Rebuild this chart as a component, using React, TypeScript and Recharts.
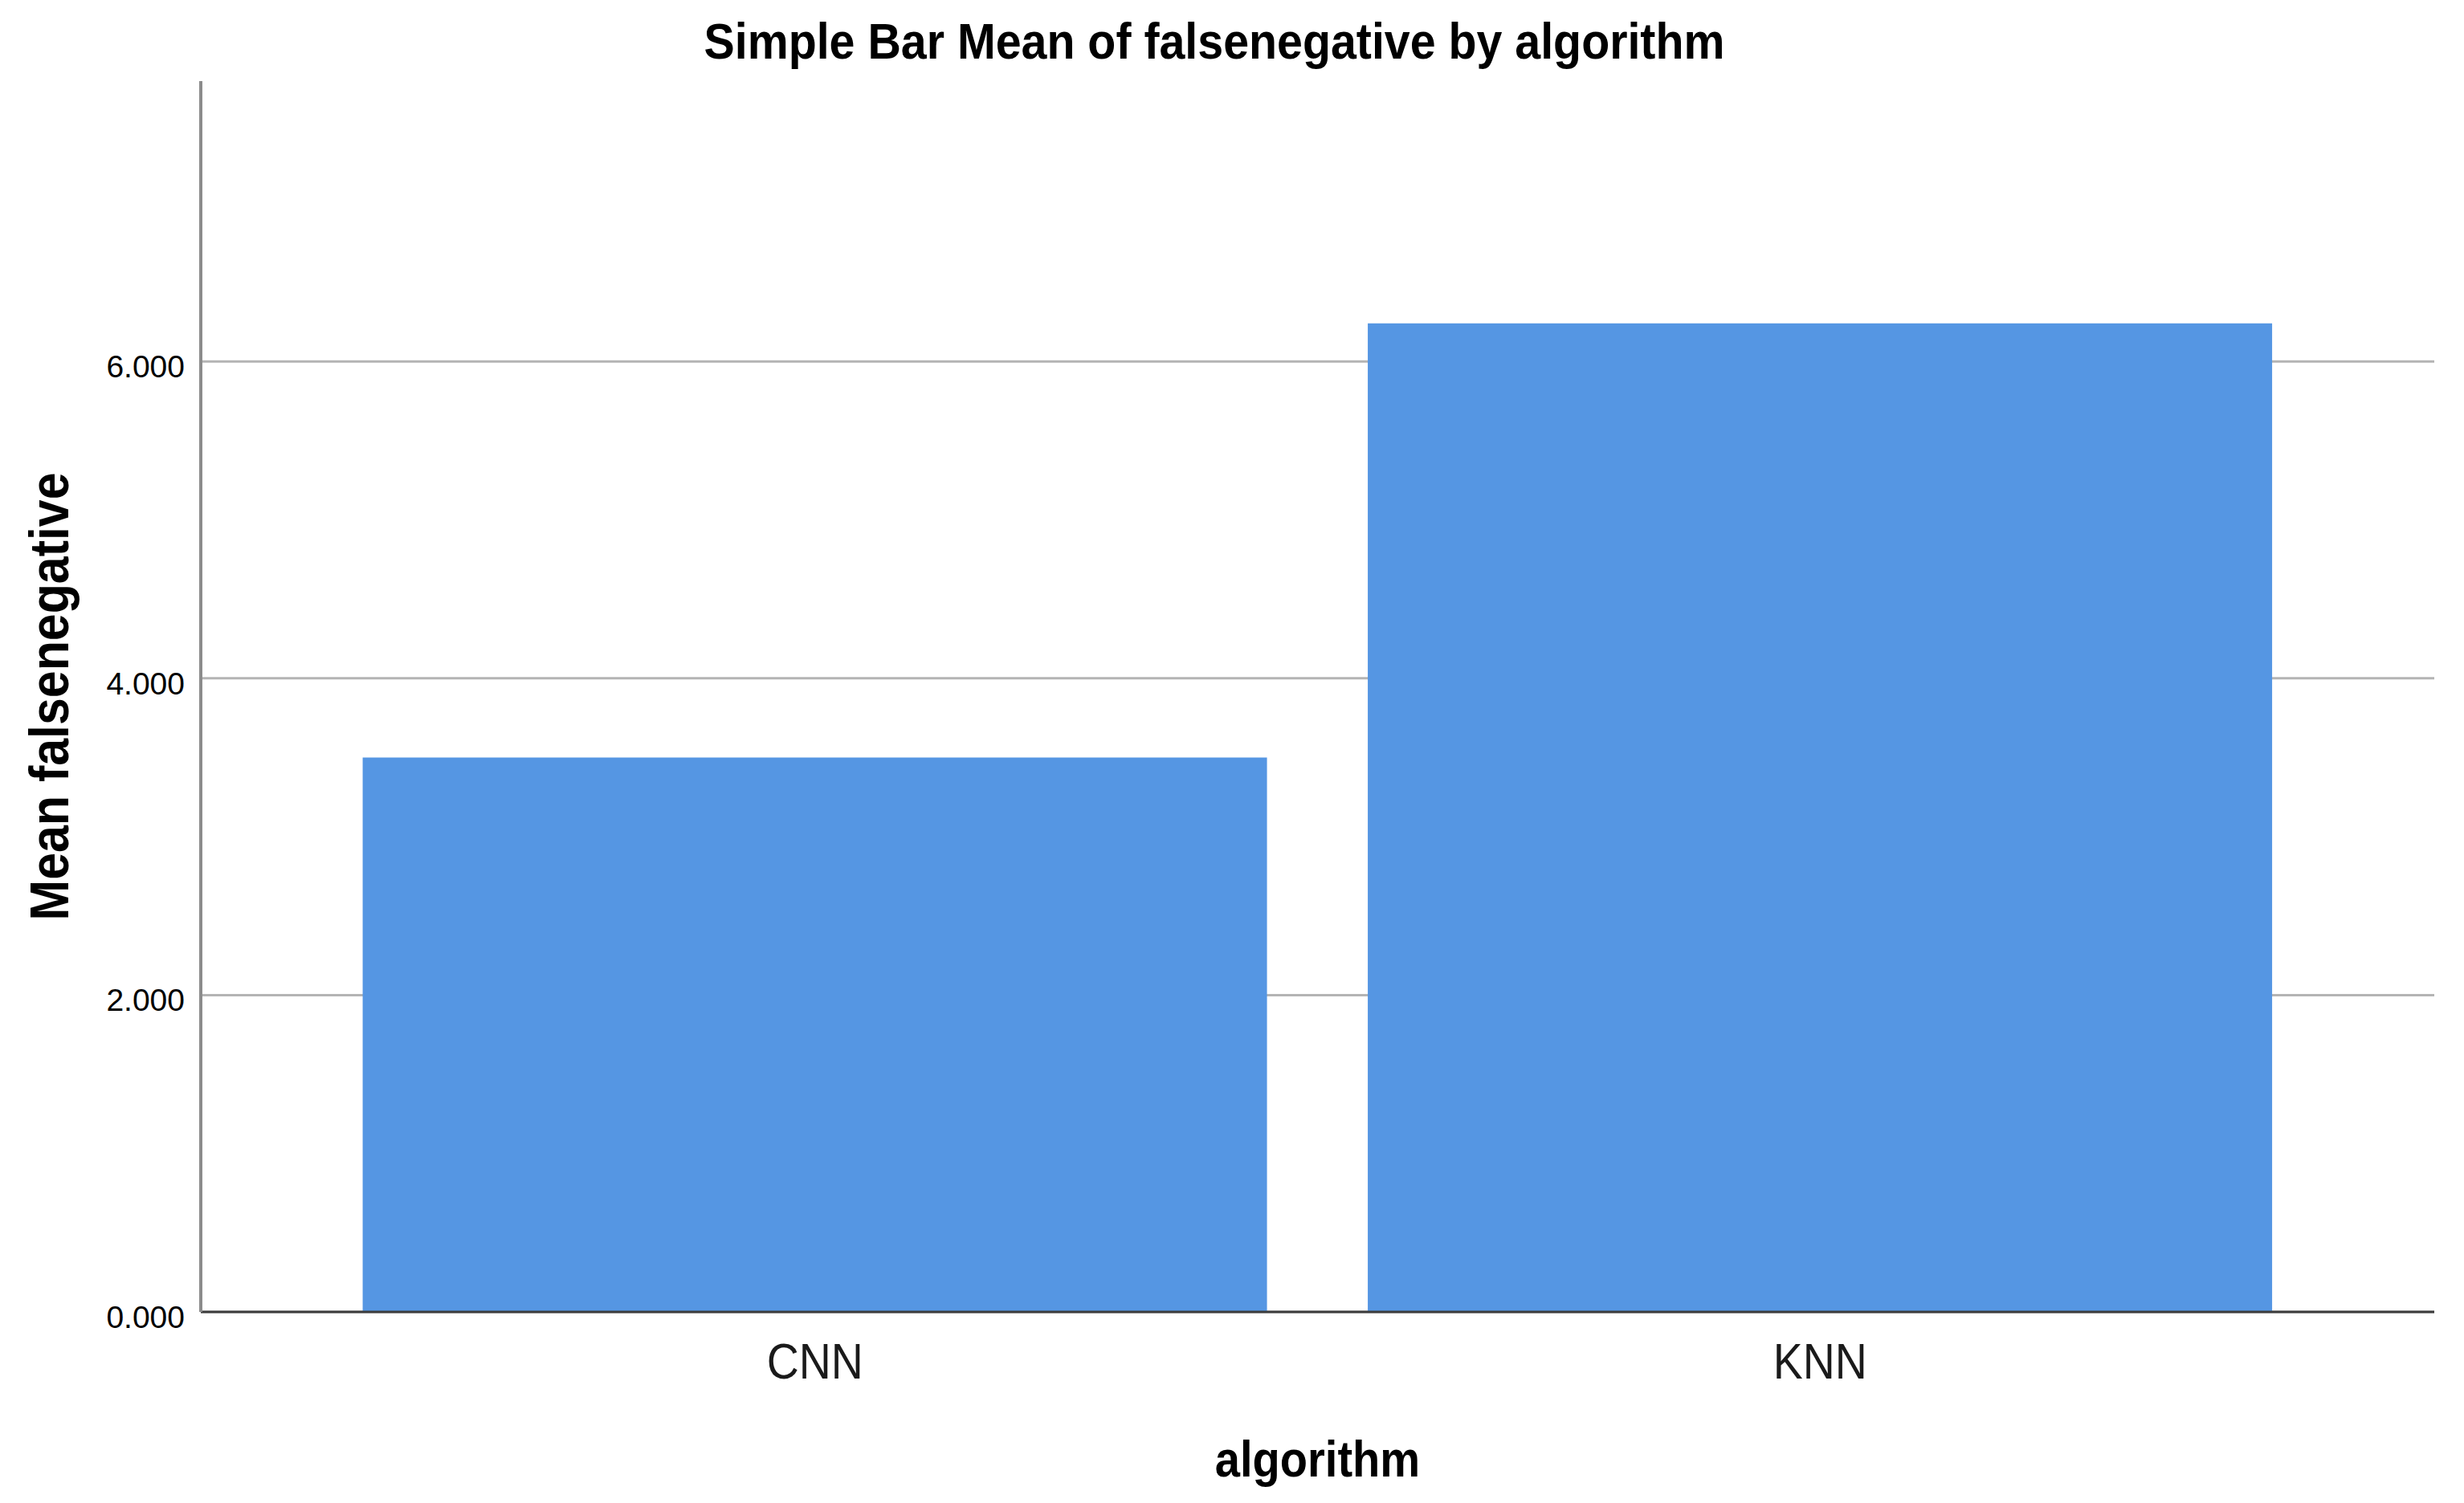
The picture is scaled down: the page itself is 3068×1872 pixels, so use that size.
import React from 'react';
import { BarChart, Bar, XAxis, YAxis, CartesianGrid, Label } from 'recharts';

const categories = ['CNN', 'KNN'];
const meanFalseNegative = [3.5, 6.24];
const yTicks = [0, 2, 4, 6];
const yDomainMax = 7.77;

const titleText = 'Simple Bar Mean of falsenegative by algorithm';
const xTitle = 'algorithm';
const yTitle = 'Mean falsenegative';

const data = categories.map((c, i) => ({ algorithm: c, value: meanFalseNegative[i] }));

const FONT = "'Liberation Sans', Arial, Helvetica, sans-serif";

const YTick = (props: any) => {
  const { x, y, payload } = props;
  return (
    <text x={x} y={y} dy={20} textAnchor="end" fontSize={39} fill="#000" fontFamily={FONT}>
      {Number(payload.value).toFixed(3)}
    </text>
  );
};

const XTick = (props: any) => {
  const { x, y, payload } = props;
  return (
    <text
      transform={`translate(${x},${y + 83}) scale(0.88,1)`}
      textAnchor="middle"
      fontSize={63}
      fill="#1a1a1a"
      fontFamily={FONT}
    >
      {payload.value}
    </text>
  );
};

const YTitle = (props: any) => {
  const vb = props.viewBox || {};
  const cx = (vb.x || 0) + 85;
  const cy = (vb.y || 0) + (vb.height || 0) / 2;
  return (
    <text
      transform={`translate(${cx},${cy}) rotate(-90) scale(0.895,1)`}
      textAnchor="middle"
      fontSize={68}
      fontWeight="bold"
      fill="#000"
      fontFamily={FONT}
    >
      {yTitle}
    </text>
  );
};

const XTitle = (props: any) => {
  const vb = props.viewBox || {};
  const cx = (vb.x || 0) + (vb.width || 0) / 2;
  const cy = (vb.y || 0) + 205;
  return (
    <text
      transform={`translate(${cx},${cy}) scale(0.89,1)`}
      textAnchor="middle"
      fontSize={63}
      fontWeight="bold"
      fill="#000"
      fontFamily={FONT}
    >
      {xTitle}
    </text>
  );
};

export default function App() {
  return (
    <div style={{ position: 'relative', width: 3068, height: 1872, background: '#fff' }}>
      <style>{'body{margin:0;}'}</style>
      <svg
        width={3068}
        height={120}
        style={{ position: 'absolute', left: 0, top: 0, pointerEvents: 'none', zIndex: 2 }}
      >
        <text
          transform="translate(1512,73) scale(0.91,1)"
          textAnchor="middle"
          fontSize={63}
          fontWeight="bold"
          fill="#000"
          fontFamily={FONT}
        >
          {titleText}
        </text>
      </svg>
      <BarChart
        width={3068}
        height={1872}
        data={data}
        margin={{ top: 101, right: 37, bottom: 0, left: 0 }}
        barCategoryGap="5%"
      >
        <CartesianGrid
          vertical={false}
          horizontalValues={yTicks}
          stroke="#b4b4b4"
          strokeWidth={3}
        />
        <XAxis
          dataKey="algorithm"
          type="category"
          height={238}
          padding={{ left: 139, right: 139 }}
          axisLine={{ stroke: '#3c3c3c', strokeWidth: 3 }}
          tickLine={false}
          tickSize={0}
          tickMargin={0}
          tick={<XTick />}
          interval={0}
        >
          <Label content={<XTitle />} />
        </XAxis>
        <YAxis
          type="number"
          width={250}
          domain={[0, yDomainMax]}
          ticks={yTicks}
          interval={0}
          axisLine={{ stroke: '#8c8c8c', strokeWidth: 4 }}
          tickLine={false}
          tickSize={0}
          tickMargin={20}
          tick={<YTick />}
        >
          <Label content={<YTitle />} />
        </YAxis>
        <Bar dataKey="value" fill="#5596E3" isAnimationActive={false} />
      </BarChart>
    </div>
  );
}
